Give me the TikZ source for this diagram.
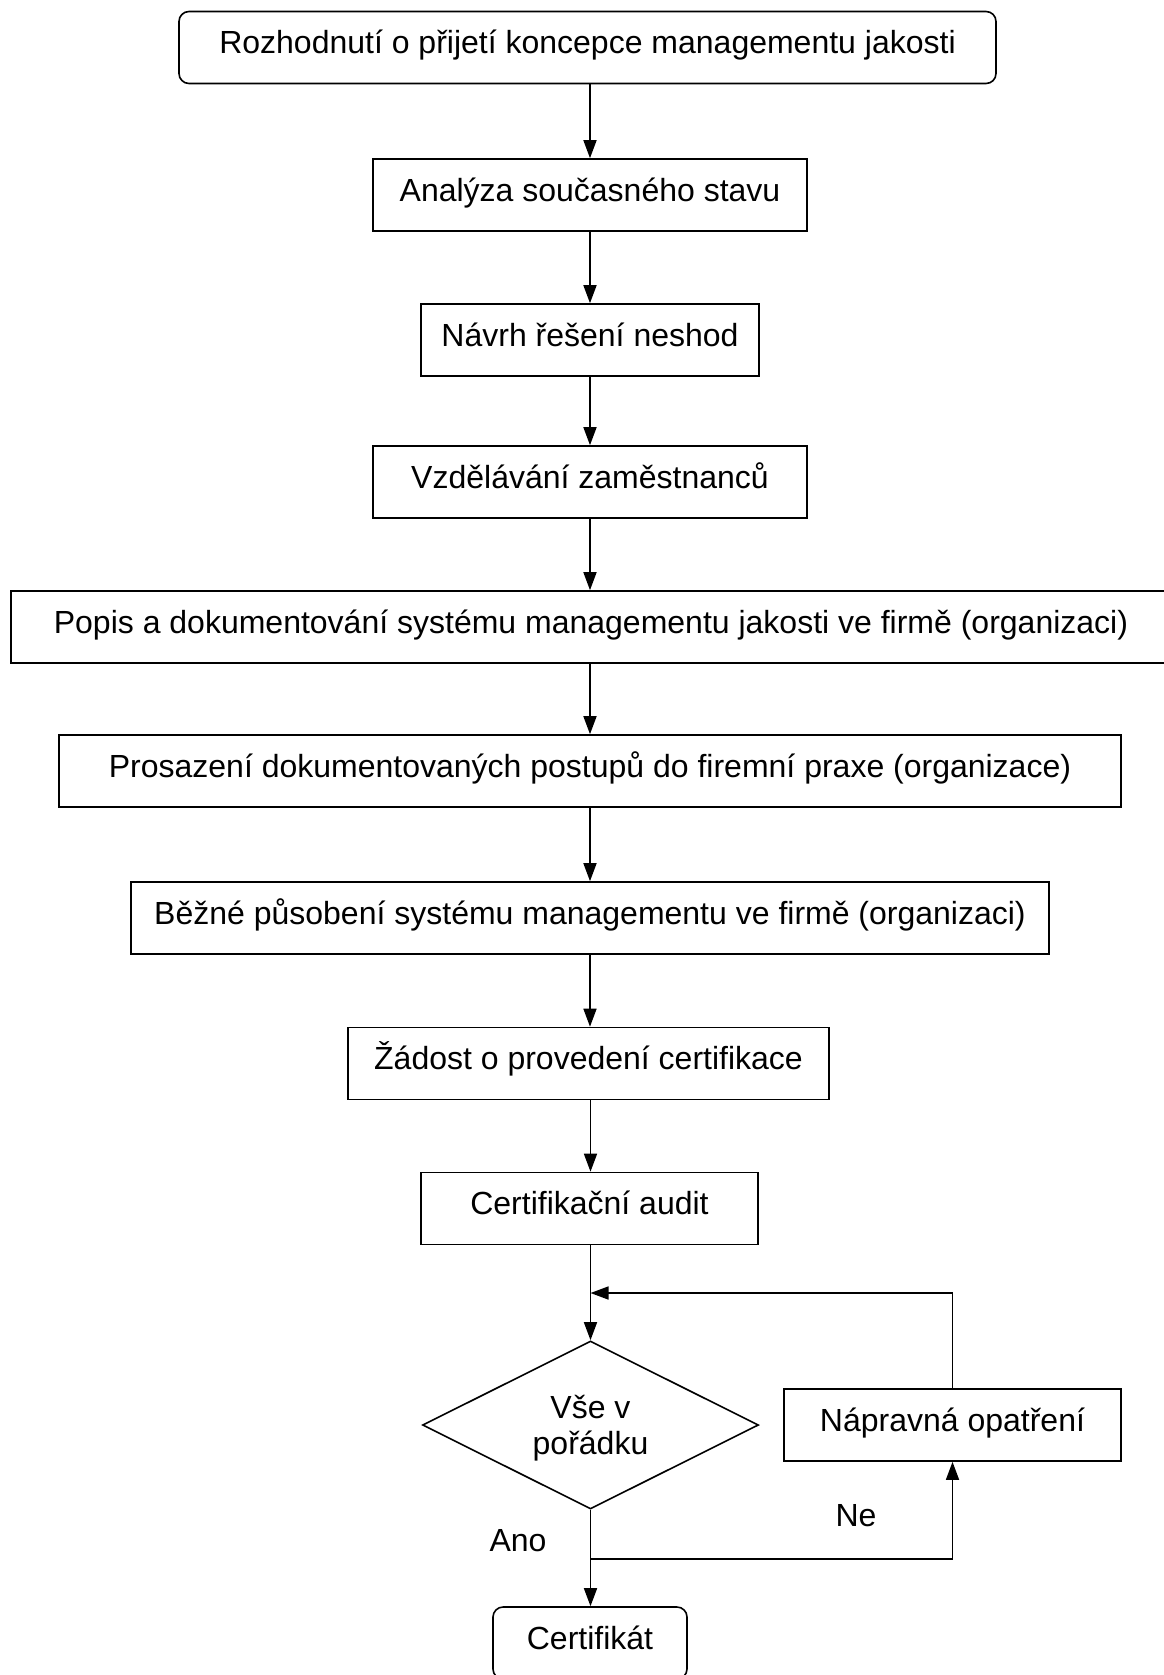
\documentclass[tikz,border=0pt]{standalone}
\usepackage{fontspec}
\setmainfont{Liberation Sans}
\usetikzlibrary{shapes.geometric,arrows.meta}
\begin{document}
\begin{tikzpicture}[x=1pt,y=-1pt,
  every node/.style={font=\fontsize{32}{36}\selectfont},
  box/.style={draw,line width=1.6pt,minimum height=72pt,inner sep=0pt,align=center,text height=23pt,text depth=11pt},
  rbox/.style={box,rounded corners=10pt},
  dia/.style={draw,line width=1.6pt,diamond,aspect=2,minimum width=336pt,minimum height=168pt,inner sep=0pt,align=center,text depth=0pt},
  arr/.style={line width=1.6pt,-{Triangle[length=18pt,width=13pt]}},
  lbl/.style={inner sep=0pt}]
\useasboundingbox (0,0) rectangle (1163,1675);
\node[rbox,minimum width=817pt] (b1) at (587.5,47.5) {Rozhodnutí o přijetí koncepce managementu jakosti};
\node[box,minimum width=434pt] (b2) at (590,195) {Analýza současného stavu};
\node[box,minimum width=338pt] (b3) at (590,340) {Návrh řešení neshod};
\node[box,minimum width=434pt] (b4) at (590,482) {Vzdělávání zaměstnanců};
\node[box,minimum width=1160pt] (b5) at (591,627) {Popis a dokumentování systému managementu jakosti ve firmě (organizaci)};
\node[box,minimum width=1062pt] (b6) at (590,771) {Prosazení dokumentovaných postupů do firemní praxe (organizace)};
\node[box,minimum width=918pt] (b7) at (590,918) {Běžné působení systému managementu ve firmě (organizaci)};
\node[box,minimum width=481pt] (b8) at (588.5,1063.5) {Žádost o provedení certifikace};
\node[box,minimum width=337pt] (b9) at (589.5,1208.5) {Certifikační audit};
\node[dia] (d) at (590.5,1425) {Vše v\\pořádku};
\node[box,minimum width=337pt] (nap) at (952.5,1425) {Nápravná opatření};
\node[rbox,minimum width=194pt] (cert) at (590,1643) {Certifikát};
\node[lbl] (ne) at (856,1516) {Ne};
\node[lbl] (ano) at (518,1541) {Ano};
\coordinate (mrg) at (590.5,1293);
\coordinate (spl) at (590.5,1559);
\draw[arr] (b1.south -| b2) -- (b2);
\draw[arr] (b2) -- (b3);
\draw[arr] (b3) -- (b4);
\draw[arr] (b4.south) -- (b5.north -| b4);
\draw[arr] (b5.south -| b6) -- (b6);
\draw[arr] (b6) -- (b7);
\draw[arr] (b7.south) -- (b8.north -| b7);
\draw[arr] (b8.south -| d) -- (b9.north -| d);
\draw[arr] (b9.south -| d) -- (d.north);
\draw[arr] (nap.north) |- (mrg);
\draw[arr] (d.south) -- (cert.north -| d);
\draw[arr] (spl) -| (nap.south);
\end{tikzpicture}
\end{document}
